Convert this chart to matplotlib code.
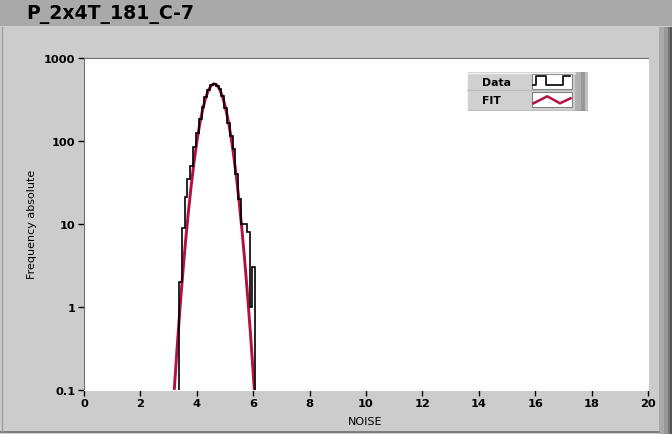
import numpy as np
import matplotlib
matplotlib.use("Agg")
from matplotlib import pyplot as plt
from matplotlib.patches import Rectangle
from matplotlib.ticker import FixedLocator, NullLocator

#%% data
bin_edges = [3.37, 3.47, 3.57, 3.67, 3.77, 3.87, 3.97, 4.07, 4.17, 4.27,
             4.37, 4.47, 4.57, 4.67, 4.77, 4.87, 4.97, 5.07, 5.17, 5.27,
             5.37, 5.47, 5.57, 5.67, 5.77, 5.87, 5.97, 6.07]
counts = [2, 9, 21, 35, 50, 85, 124, 185, 257, 340,
          408, 475, 490, 455, 420, 350, 250, 165, 115, 80,
          40, 20, 10, 10, 8, 1, 3]

fit_x = [3.20, 3.30, 3.40, 3.50, 3.60, 3.70, 3.80, 3.90, 4.00, 4.10,
         4.20, 4.30, 4.40, 4.50, 4.60, 4.70, 4.80, 4.90, 5.00, 5.10,
         5.20, 5.30, 5.40, 5.50, 5.60, 5.70, 5.80, 5.90, 6.00, 6.04]
fit_y = [0.100, 0.317, 0.926, 2.48, 6.11, 13.8, 28.8, 55.1, 97.0, 157,
         233, 318, 400, 461, 489, 477, 427, 352, 267, 186,
         119, 69.8, 37.7, 18.7, 8.57, 3.60, 1.39, 0.492, 0.160, 0.100]

x_ticks = [0, 2, 4, 6, 8, 10, 12, 14, 16, 18, 20]
y_ticks = [0.1, 1, 10, 100, 1000]
y_labels = ["0.1", "1", "10", "100", "1000"]

title = "P_2x4T_181_C-7"
FIT_COLOR = "#b3113f"
W, H = 672, 435

plt.rcParams["font.family"] = ["DejaVu Sans"]

fig = plt.figure(figsize=(W / 100, H / 100), dpi=100)
fig.patch.set_facecolor("#cccccc")

# window chrome, drawn in pixel coords
bg = fig.add_axes([0, 0, 1, 1], zorder=-5)
bg.set_xlim(0, W)
bg.set_ylim(H, 0)
bg.axis("off")
bg.add_patch(Rectangle((0, 0), W, 27, color="#a9a9a9", lw=0))
for x0, x1, c in [(658.7, 663.7, "#ababab"), (663.7, 667.7, "#999999"),
                  (667.7, 670.3, "#777777"), (670.3, 672, "#555555")]:
    bg.add_patch(Rectangle((x0, 28), x1 - x0, H - 28, color=c, lw=0))
bg.plot([0, 659], [432.7, 432.7], color="#6f6f6f", lw=1.2)
bg.plot([1.5, 1.5], [28, 433], color="#a0a0a0", lw=1.0)
bg.text(26, 14, title, fontsize=13.6, fontweight="bold", va="center", ha="left")
bg.text(32, 224, "Frequency absolute", fontsize=8, rotation=90,
        va="center", ha="center")
bg.text(365.5, 422, "NOISE", fontsize=8, va="center", ha="center")

# plot area
left, right, top, bottom = 84, 648, 59, 391
ax = fig.add_axes([left / W, 1 - bottom / H, (right - left) / W, (bottom - top) / H])
ax.set_facecolor("white")
ax.plot(fit_x, fit_y, color=FIT_COLOR, lw=2.1, solid_capstyle="butt", zorder=2)
ax.stairs(counts, bin_edges, baseline=1e-3, color="black", lw=1.2, zorder=3)
ax.set_yscale("log")
ax.set_xlim(0, 20)
ax.set_ylim(0.1, 1000)
ax.xaxis.set_major_locator(FixedLocator(x_ticks))
ax.yaxis.set_major_locator(FixedLocator(y_ticks))
ax.yaxis.set_minor_locator(NullLocator())
ax.set_yticklabels(y_labels)
ax.tick_params(direction="out", length=4, width=1, labelsize=8.2, pad=2, color="black")
for lab in ax.get_xticklabels() + ax.get_yticklabels():
    lab.set_fontweight("bold")
for s in ["top", "left"]:
    ax.spines[s].set_color("#707070")
    ax.spines[s].set_linewidth(0.8)
for s in ["bottom", "right"]:
    ax.spines[s].set_color("white")

# legend box, pixel coords
lg = fig.add_axes([467 / W, 1 - 112 / H, 121 / W, 39 / H], zorder=5)
lg.set_xlim(467, 588)
lg.set_ylim(112, 73)
lg.axis("off")
lg.add_patch(Rectangle((467, 73), 108, 39, facecolor="#d0d0d0", edgecolor="none"))
lg.add_patch(Rectangle((575, 73), 6, 39, facecolor="#b0b0b0", edgecolor="none"))
lg.add_patch(Rectangle((581, 73), 4, 39, facecolor="#989898", edgecolor="none"))
lg.add_patch(Rectangle((585, 73), 3, 39, facecolor="#c0c0c0", edgecolor="none"))
lg.plot([467, 575], [73.5, 73.5], color="#f0f0f0", lw=1)
lg.plot([467.5, 467.5], [73, 112], color="#f0f0f0", lw=1)
lg.plot([467, 588], [111.5, 111.5], color="#707070", lw=1)
lg.plot([467, 575], [91, 91], color="#bdbdbd", lw=0.8)
for y0 in (74.5, 93):
    lg.add_patch(Rectangle((532, y0), 40, 15, facecolor="white",
                           edgecolor="#808080", lw=0.8))
lg.plot([533, 536, 536, 546, 546, 563, 563, 570],
        [86, 86, 76.5, 76.5, 86, 86, 76.5, 76.5], color="black", lw=1.2)
lg.plot([533.5, 547.3, 560, 570.5], [104.3, 97.3, 104.3, 99.3],
        color=FIT_COLOR, lw=1.8)
lg.text(482.5, 82.5, "Data", fontsize=7.8, fontweight="bold", va="center")
lg.text(482.5, 100.5, "FIT", fontsize=7.8, fontweight="bold", va="center")

fig.savefig("out.png", dpi=100, facecolor=fig.get_facecolor())
